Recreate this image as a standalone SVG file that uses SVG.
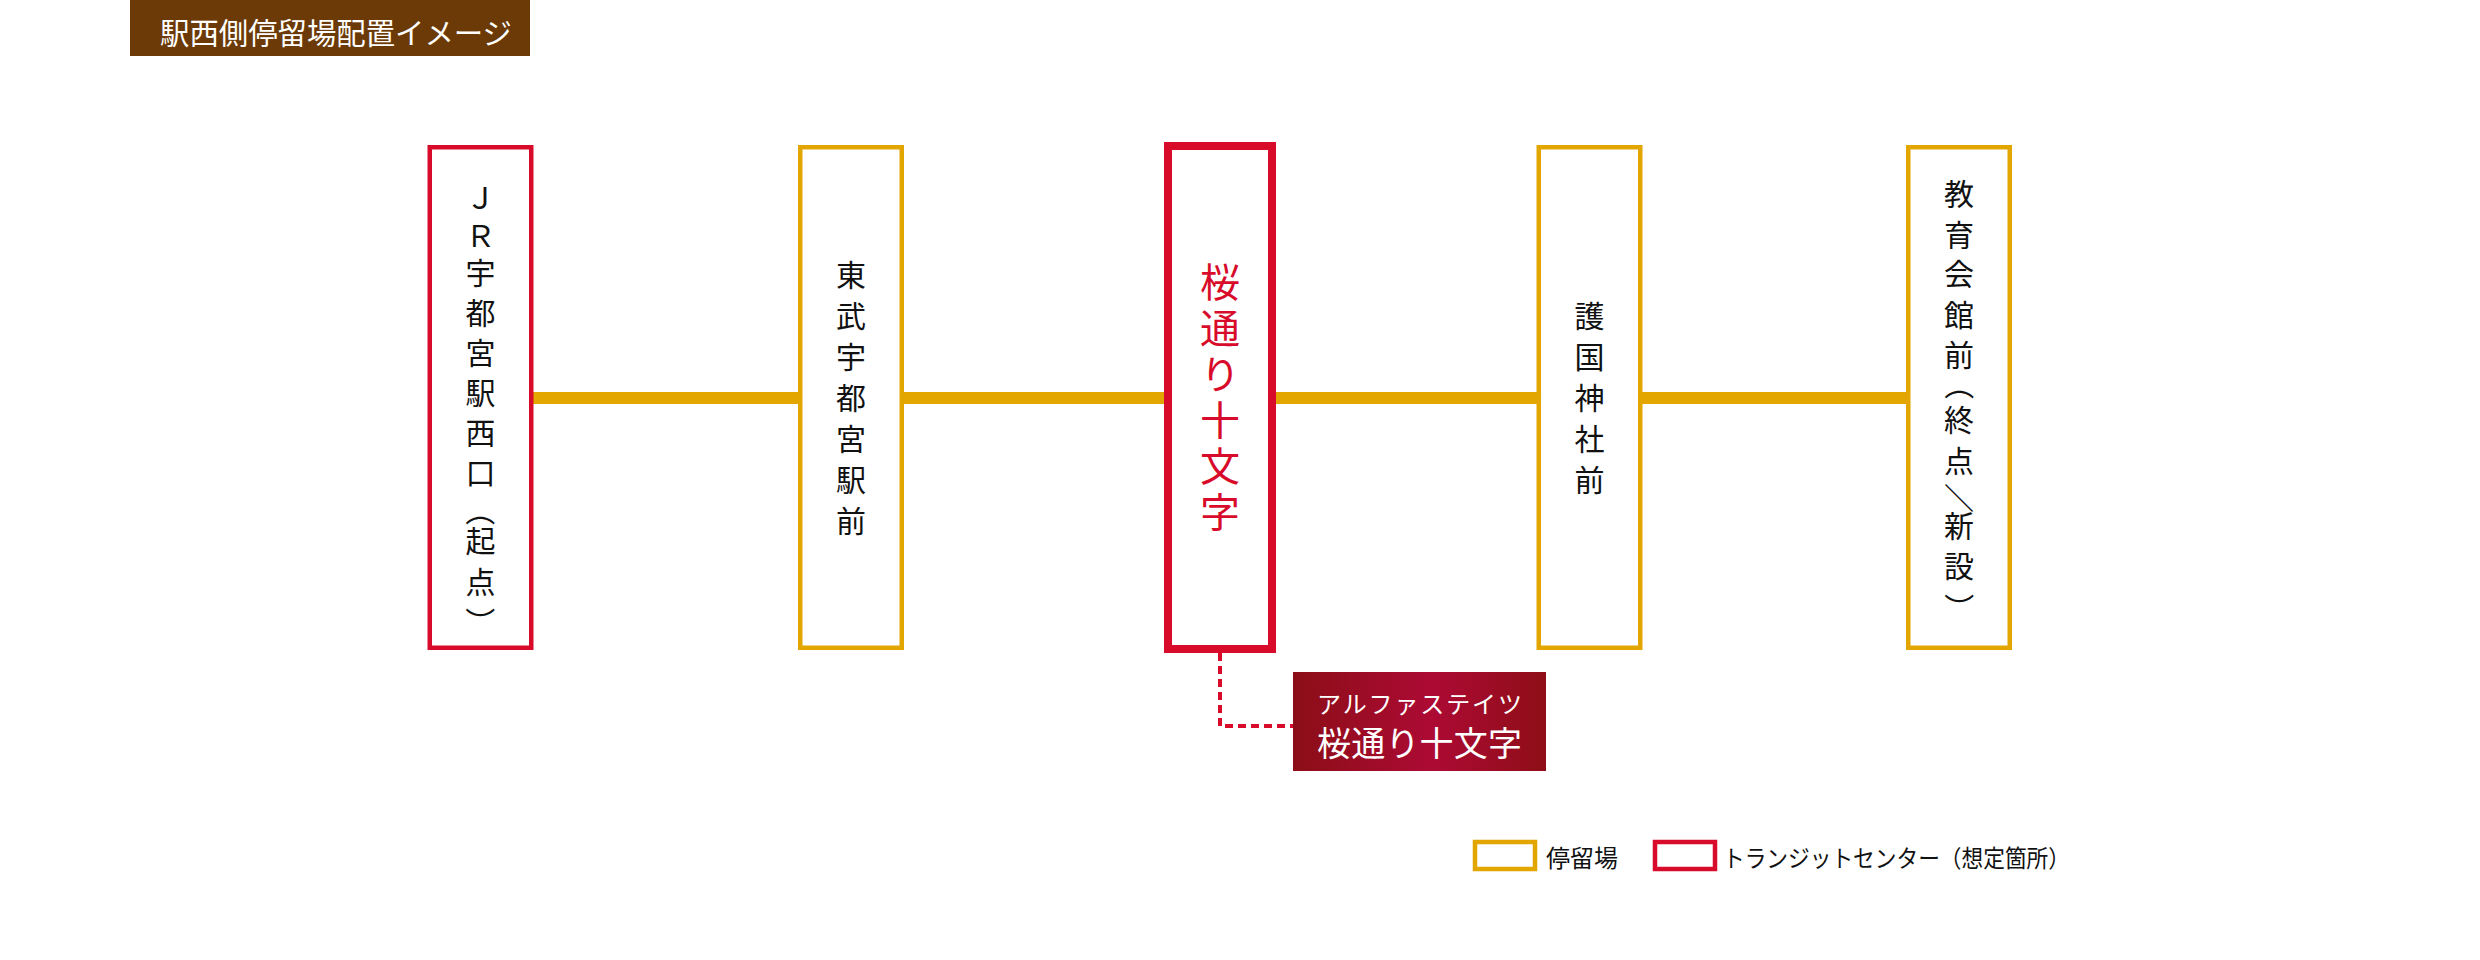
<svg xmlns="http://www.w3.org/2000/svg" width="2480" height="960" viewBox="0 0 2480 960">
<defs>
<style>
.stop{fill:#fff;stroke:#E3A500;stroke-width:4.5}
.tc{fill:#fff;stroke:#D80C2A;stroke-width:4.5}
.tcbig{fill:#fff;stroke:#D80C2A;stroke-width:8}
.vt{font-family:"Noto Sans CJK JP",sans-serif;font-size:30px;fill:#111;writing-mode:vertical-rl;text-anchor:middle;letter-spacing:11px}
.ht{font-family:"Noto Sans CJK JP",sans-serif;font-size:30px;fill:#111}
.vtr{font-family:"Noto Sans CJK JP",sans-serif;font-size:40px;fill:#D80C2A;writing-mode:vertical-rl;text-anchor:middle;letter-spacing:6px}
.line{stroke:#E3A500;stroke-width:12;fill:none}
.dash{stroke:#D80C2A;stroke-width:4;fill:none;stroke-dasharray:8 5}
.sans{font-family:"Noto Sans CJK JP",sans-serif}
</style>
<linearGradient id="lbl" x1="0" y1="0" x2="1" y2="0">
<stop offset="0" stop-color="#8B0E17"/>
<stop offset="0.55" stop-color="#AD0A34"/>
<stop offset="1" stop-color="#8E0E17"/>
</linearGradient>
</defs>
<rect width="2480" height="960" fill="#fff"/>
<g id="title">
<rect x="130" y="0" width="400" height="56" fill="#6B3A06"/>
<text x="160" y="44" class="sans" font-size="29.5" fill="#fff" textLength="352" lengthAdjust="spacingAndGlyphs">駅西側停留場配置イメージ</text>
</g>
<g id="connectors">
<line class="line" x1="531" y1="398" x2="800" y2="398"/>
<line class="line" x1="901" y1="398" x2="1168" y2="398"/>
<line class="line" x1="1272" y1="398" x2="1539" y2="398"/>
<line class="line" x1="1640" y1="398" x2="1909" y2="398"/>
<path class="dash" d="M1220 653 V726 H1294"/>
</g>
<g id="node-jr">
<rect class="tc" x="429.75" y="147.25" width="101.5" height="500.5"/>
<text class="ht" x="465.5 465.5 465.5 465.5 465.5 465.5 465.5 465.5 469.1 465.5 465.5 469.1" y="209.4 247.4 284.4 324.4 364.4 404.4 444.4 484.4 496 552.4 593.4 607" rotate="0 0 0 0 0 0 0 0 90 0 0 90">ＪＲ宇都宮駅西口（起点）</text>
</g>
<g id="node-tobu">
<rect class="stop" x="800.25" y="147.25" width="101.5" height="500.5"/>
<text class="vt" x="851" y="403.5">東武宇都宮駅前</text>
</g>
<g id="node-sakura">
<rect class="tcbig" x="1168" y="146" width="104" height="503"/>
<text class="vtr" x="1220" y="400">桜通り十文字</text>
</g>
<g id="node-gokoku">
<rect class="stop" x="1538.75" y="147.25" width="101.5" height="500.5"/>
<text class="vt" x="1589.5" y="403.5">護国神社前</text>
</g>
<g id="node-kyoiku">
<rect class="stop" x="1908.25" y="147.25" width="101.5" height="500.5"/>
<text class="ht" x="1944 1944 1944 1944 1944 1947.6 1944 1944 1947.6 1944 1944 1947.6" y="205.4 246.4 285.4 326.4 366.4 370 431.4 472.4 483 537.4 577.4 593" rotate="0 0 0 0 0 90 0 0 90 0 0 90">教育会館前（終点／新設）</text>
</g>
<g id="label-alpha">
<rect x="1293" y="672" width="253" height="99" fill="url(#lbl)"/>
<text x="1317" y="713" font-family="Noto Sans CJK JP,sans-serif" font-size="24" fill="#fff" textLength="205" lengthAdjust="spacing">アルファステイツ</text>
<text x="1317" y="756" font-family="Noto Sans CJK JP,sans-serif" font-size="34" fill="#fff" textLength="205" lengthAdjust="spacing">桜通り十文字</text>
</g>
<g id="legend">
<rect class="stop" x="1475" y="842" width="60" height="27" stroke-width="4"/>
<text x="1546" y="867" class="sans" font-size="24" fill="#111">停留場</text>
<rect class="tc" x="1655" y="842" width="60" height="27" stroke-width="4"/>
<text x="1723" y="867" class="sans" font-size="24" fill="#111" textLength="347" lengthAdjust="spacingAndGlyphs">トランジットセンター（想定箇所）</text>
</g>
</svg>
